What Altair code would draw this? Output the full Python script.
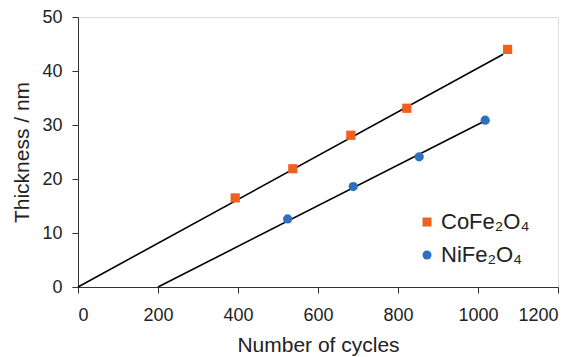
import altair as alt
import pandas as pd

co_cycles = [393, 537, 682, 822, 1074]
co_thick = [16.5, 21.9, 28.1, 33.1, 44.0]
ni_cycles = [524, 688, 853, 1018]
ni_thick = [12.6, 18.6, 24.1, 30.9]

co_fit_x = [0, 1063]
co_fit_y = [0, 43.1]
ni_fit_x = [200, 1013]
ni_fit_y = [0, 30.6]

CO = "CoFe₂O₄"
NI = "NiFe₂O₄"

pts = pd.DataFrame({
    "cycles": co_cycles + ni_cycles,
    "thick": co_thick + ni_thick,
    "series": [CO] * len(co_cycles) + [NI] * len(ni_cycles),
})
fit = pd.DataFrame({
    "cycles": co_fit_x + ni_fit_x,
    "thick": co_fit_y + ni_fit_y,
    "series": [CO] * 2 + [NI] * 2,
})

xs = alt.Scale(domain=[0, 1200], nice=False)
ys = alt.Scale(domain=[0, 50], nice=False)

xax = alt.Axis(title="Number of cycles", values=[0, 200, 400, 600, 800, 1000, 1200],
               format="d", grid=False, tickSize=6, labelPadding=13, titlePadding=10,
               labelFontSize=18, titleFontSize=21, labelColor="#222", titleColor="#222",
               titleFontWeight="normal", domainColor="#333", tickColor="#333")
yax = alt.Axis(title="Thickness / nm", values=[0, 10, 20, 30, 40, 50],
               format="d", grid=False, tickSize=6, labelPadding=10, titlePadding=9,
               labelFontSize=18, titleFontSize=21, labelColor="#222", titleColor="#222",
               titleFontWeight="normal", domainColor="#333", tickColor="#333")

lines = alt.Chart(fit).mark_line(color="black", strokeWidth=1.6).encode(
    x=alt.X("cycles:Q", scale=xs, axis=xax),
    y=alt.Y("thick:Q", scale=ys, axis=yax),
    detail="series:N",
)

points = alt.Chart(pts).mark_point(filled=True, opacity=1, size=85).encode(
    x=alt.X("cycles:Q", scale=xs, axis=xax),
    y=alt.Y("thick:Q", scale=ys, axis=yax),
    color=alt.Color("series:N",
                    scale=alt.Scale(domain=[CO, NI], range=["#EE6122", "#2E6FBF"]),
                    legend=alt.Legend(title=None, orient="none", legendX=338, legendY=194,
                                      labelFontSize=22, labelColor="#222", symbolSize=81,
                                      labelOffset=3, rowPadding=11, padding=0,
                                      symbolOpacity=1)),
    shape=alt.Shape("series:N",
                    scale=alt.Scale(domain=[CO, NI], range=["square", "circle"]),
                    legend=None),
)

chart = (lines + points).properties(
    width=480, height=270,
    autosize=alt.AutoSizeParams(type="none"),
    padding={"left": 70, "top": 9, "right": 12, "bottom": 70},
).configure_view(stroke="#666", strokeWidth=1.2).configure(
    font="Liberation Sans"
)

chart.save("out.html", embed_options={"renderer": "svg", "actions": False})
